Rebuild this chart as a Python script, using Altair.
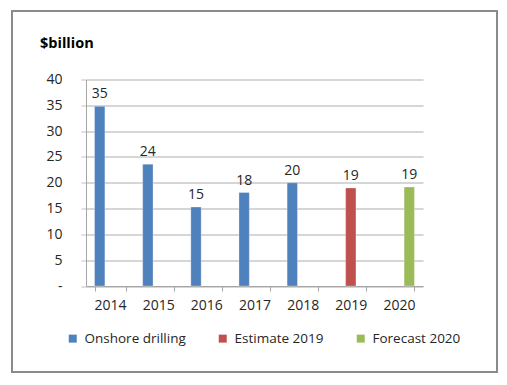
import altair as alt
import pandas as pd

years = ["2014", "2015", "2016", "2017", "2018", "2019", "2020"]
values = [34.8, 23.6, 15.3, 18.1, 20.0, 19.0, 19.2]
series = ["Onshore drilling"] * 5 + ["Estimate 2019", "Forecast 2020"]
series_order = ["Onshore drilling", "Estimate 2019", "Forecast 2020"]
series_colors = ["#4f81bd", "#c0504d", "#9bbb59"]
y_ticks = [0, 5, 10, 15, 20, 25, 30, 35, 40]
unit_title = "$billion"

df = pd.DataFrame({"year": years, "value": values, "series": series})

FONT = "Open Sans"
TXT = "#262626"

x_enc = alt.X(
    "year:N",
    sort=years,
    scale=alt.Scale(paddingInner=0.355, paddingOuter=0.1775),
    axis=alt.Axis(
        title=None, labelAngle=0, tickBand="extent", tickSize=5,
        tickColor="#a6a6a6", domainColor="#a6a6a6", labelPadding=7,
        labelFont=FONT, labelFontSize=14, labelColor=TXT, grid=False,
    ),
)
xoff_enc = alt.XOffset(
    "series:N", sort=series_order,
    scale=alt.Scale(domain=series_order, paddingInner=0, paddingOuter=0),
)
y_enc = alt.Y(
    "value:Q",
    scale=alt.Scale(domain=[0, 40], nice=False),
    axis=alt.Axis(
        title=None, values=y_ticks, tickCount=20, labelOverlap=False,
        tickSize=5, tickColor="#c0c0c0",
        domainColor="#a6a6a6", gridColor="#c8c8c8", gridWidth=1.5,
        labelPadding=19, labelFont=FONT, labelFontSize=14, labelColor=TXT,
        labelExpr="datum.value == 0 ? '-\u00a0\u00a0' : datum.label",
    ),
)

bars = alt.Chart(df).mark_bar(stroke="white", strokeWidth=0.3).encode(
    x=x_enc,
    xOffset=xoff_enc,
    y=y_enc,
    color=alt.Color(
        "series:N",
        scale=alt.Scale(domain=series_order, range=series_colors),
        legend=alt.Legend(
            title=None, orient="none", legendX=-20, legendY=252,
            direction="horizontal", columnPadding=30, symbolType="square",
            symbolSize=64, symbolStrokeWidth=0, labelOffset=5,
            labelFont=FONT, labelFontSize=13.5, labelColor=TXT,
        ),
    ),
)

labels = alt.Chart(df).mark_text(
    dy=-12, font=FONT, fontSize=14, color=TXT, baseline="middle"
).encode(
    x=x_enc,
    xOffset=xoff_enc,
    y=y_enc,
    text=alt.Text("value:Q", format=".0f"),
)

frame = alt.Chart(pd.DataFrame({"a": [0]})).mark_rect(
    filled=False, stroke="#8a8a8a", strokeWidth=2
).encode(
    x=alt.value(-74), x2=alt.value(411), y=alt.value(-68.5), y2=alt.value(292.5)
)

title = alt.Chart(pd.DataFrame({"t": [unit_title]})).mark_text(
    align="left", baseline="middle", font=FONT, fontSize=14.5,
    fontWeight="bold", color="#000000"
).encode(x=alt.value(-46), y=alt.value(-36), text="t:N")

chart = alt.layer(frame, bars, labels, title).properties(
    width=337, height=206.5,
    autosize=alt.AutoSizeParams(type="none"),
    padding={"left": 78, "top": 71.5, "right": 76, "bottom": 90},
    background="white",
).configure_view(stroke=None)

chart.save("out.html", embed_options={"renderer": "svg", "actions": False})
